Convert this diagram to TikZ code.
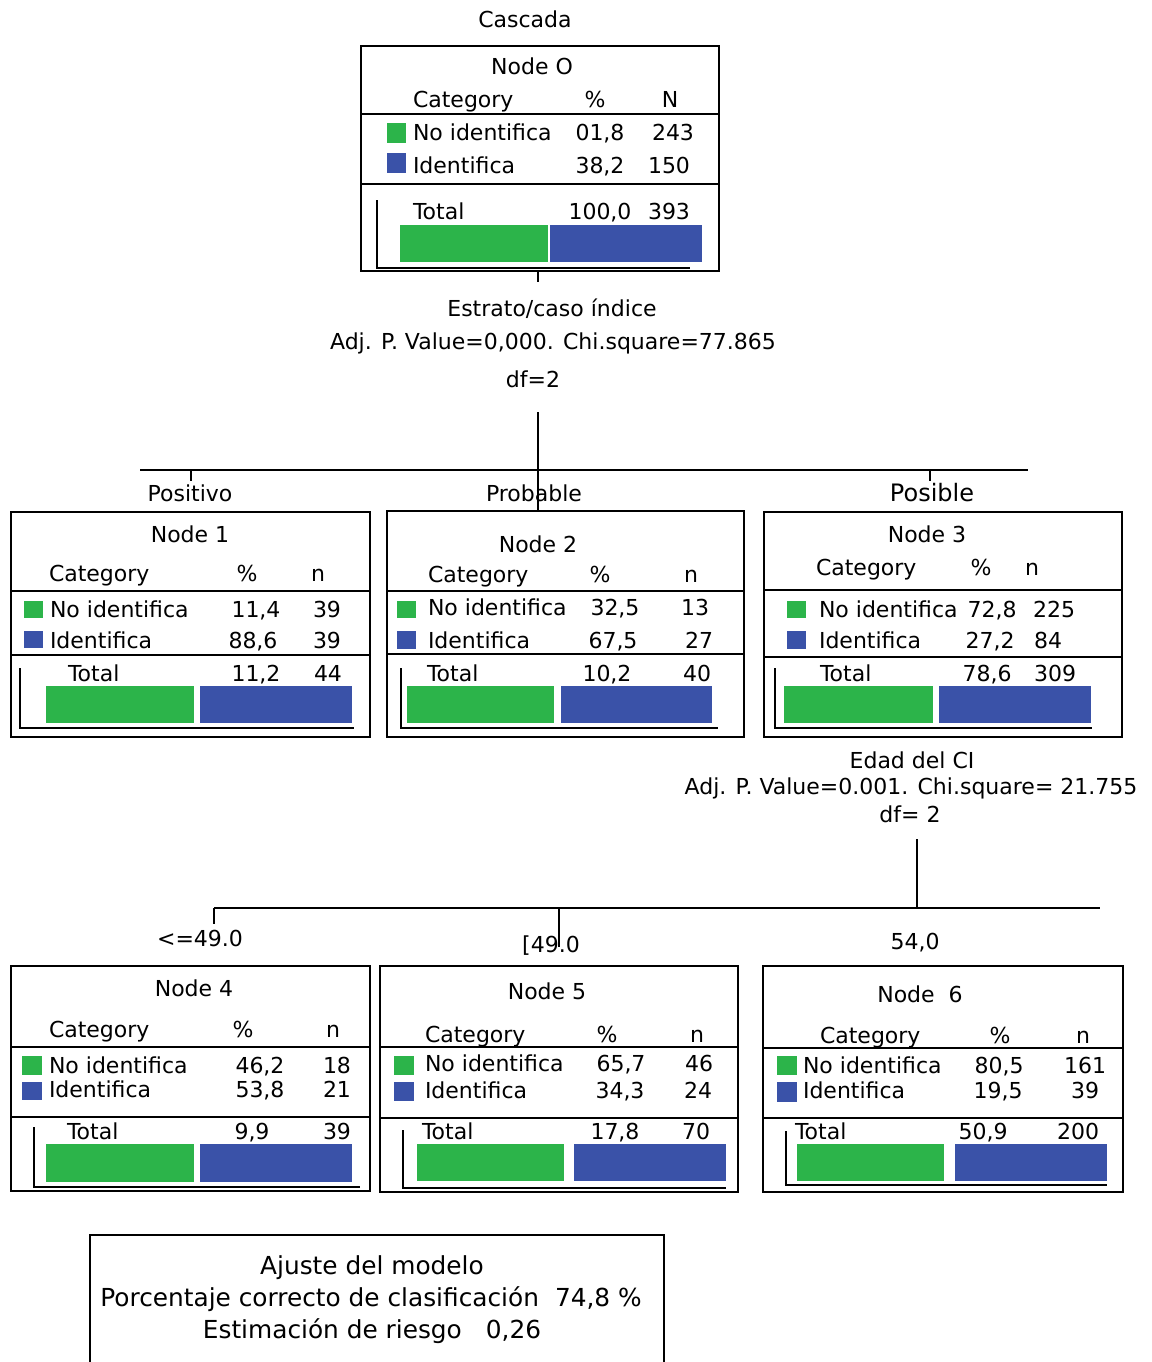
\documentclass[tikz,border=0pt]{standalone}
\usepackage{fontspec}
\setmainfont{DejaVu Sans}
\definecolor{gr}{RGB}{44,180,74}
\definecolor{bl}{RGB}{58,82,168}
\newcommand\nfont{\fontsize{22}{26}\selectfont}
\newcommand\pfont{\fontsize{24}{28}\selectfont}
\newcommand\bfontx{\fontsize{24.8}{30}\selectfont}
\tikzset{
 tx/.style={inner sep=0pt, outer sep=0pt, font=\nfont},
 lw/.style={tx, anchor=base west},
 cn/.style={tx, anchor=base},
 boxst/.style={draw, line width=1.8pt, minimum height=225pt, inner sep=0pt, outer sep=0pt, anchor=north west},
 sepst/.style={line width=1.8pt},
 brk/.style={line width=1.4pt},
 conn/.style={line width=1.6pt},
}
\begin{document}
\begin{tikzpicture}[x=1pt,y=-1pt]
\useasboundingbox (0,0) rectangle (1151,1362);
\clip (0,0) rectangle (1151,1362);

\node[cn] (title) at (525,28) {Cascada};

% ---------------- Node 0
\node[boxst, minimum width=358pt] (n0) at (361,46) {};
\begin{scope}[shift={(361,46)}]
\node[cn] (n0ti) at (171,29) {Node O};
\node[lw] (n0ca) at (52,62) {Category};
\node[cn] (n0pc) at (234,62) {\%};
\node[cn] (n0nn) at (309,62) {N};
\draw[sepst] (0,68) -- (358,68);
\fill[gr] (26,77) rectangle (45,97);
\fill[bl] (26,107) rectangle (45,127);
\node[lw] (n0a) at (52,94) {No identifica};
\node[cn] (n0ap) at (239,94) {01,8};
\node[cn] (n0an) at (312,94) {243};
\node[lw] (n0b) at (52,127) {Identifica};
\node[cn] (n0bp) at (239,127) {38,2};
\node[cn] (n0bn) at (308,127) {150};
\draw[sepst] (0,138) -- (358,138);
\node[lw] (n0t) at (52,173) {Total};
\node[cn] (n0tp) at (239,173) {100,0};
\node[cn] (n0tn) at (308,173) {393};
\fill[gr] (39,179) rectangle (187,216);
\fill[bl] (189,179) rectangle (341,216);
\draw[brk] (16,154) -- (16,222) -- (329,222);
\end{scope}

% ---------------- split 1
\coordinate (c0) at (538,282);
\draw[conn] (n0.south -| c0) -- (c0);
\node[cn] (e1a) at (552,316) {Estrato/caso índice};
\node[cn] (e1b) at (553,349) {Adj. P. Value=0,000. Chi.square=77.865};
\node[cn] (e1c) at (533,387) {df=2};
\coordinate (s1top) at (538,412);
\coordinate (h1l) at (140,470);
\coordinate (h1r) at (1028,470);
\coordinate (t1a) at (191,470);
\coordinate (t1b) at (191,481);
\coordinate (t3a) at (930,470);
\coordinate (t3b) at (930,481);
\draw[conn] (h1l) -- (h1r);
\draw[conn] (t1a) -- (t1b);
\draw[conn] (t3a) -- (t3b);

% ---------------- Node 1
\node[boxst, minimum width=359pt] (n1) at (11,512) {};
\begin{scope}[shift={(11,512)}]
\node[cn] (n1ti) at (179,30) {Node 1};
\node[lw] (n1ca) at (38,69) {Category};
\node[cn] (n1pc) at (236,69) {\%};
\node[cn] (n1nn) at (307,69) {n};
\draw[sepst] (0,79) -- (359,79);
\fill[gr] (13,89) rectangle (32,106);
\fill[bl] (13,119) rectangle (32,136);
\node[lw] (n1a) at (39,105) {No identifica};
\node[cn] (n1ap) at (245,105) {11,4};
\node[cn] (n1an) at (316,105) {39};
\node[lw] (n1b) at (39,136) {Identifica};
\node[cn] (n1bp) at (242,136) {88,6};
\node[cn] (n1bn) at (316,136) {39};
\draw[sepst] (0,143) -- (359,143);
\node[lw] (n1t) at (57,169) {Total};
\node[cn] (n1tp) at (245,169) {11,2};
\node[cn] (n1tn) at (317,169) {44};
\fill[gr] (35,174) rectangle (183,211);
\fill[bl] (189,174) rectangle (341,211);
\draw[brk] (9,156) -- (9,216) -- (343,216);
\end{scope}

% ---------------- Node 2
\node[boxst, minimum width=357pt, minimum height=226pt] (n2) at (387,511) {};
\draw[conn] (s1top) -- (n2.north -| s1top);
\begin{scope}[shift={(387,511)}]
\node[cn] (n2ti) at (151,41) {Node 2};
\node[lw] (n2ca) at (41,71) {Category};
\node[cn] (n2pc) at (213,71) {\%};
\node[cn] (n2nn) at (304,71) {n};
\draw[sepst] (0,80) -- (357,80);
\fill[gr] (10,90) rectangle (29,107);
\fill[bl] (10,120) rectangle (29,138);
\node[lw] (n2a) at (41,104) {No identifica};
\node[cn] (n2ap) at (228,104) {32,5};
\node[cn] (n2an) at (308,104) {13};
\node[lw] (n2b) at (41,137) {Identifica};
\node[cn] (n2bp) at (226,137) {67,5};
\node[cn] (n2bn) at (312,137) {27};
\draw[sepst] (0,143) -- (357,143);
\node[lw] (n2t) at (40,170) {Total};
\node[cn] (n2tp) at (220,170) {10,2};
\node[cn] (n2tn) at (310,170) {40};
\fill[gr] (20,175) rectangle (167,212);
\fill[bl] (174,175) rectangle (325,212);
\draw[brk] (14,157) -- (14,217) -- (331,217);
\end{scope}

% ---------------- Node 3
\node[boxst, minimum width=358pt] (n3) at (764,512) {};
\begin{scope}[shift={(764,512)}]
\node[cn] (n3ti) at (163,30) {Node 3};
\node[lw] (n3ca) at (52,63) {Category};
\node[cn] (n3pc) at (217,63) {\%};
\node[cn] (n3nn) at (268,63) {n};
\draw[sepst] (0,78) -- (358,78);
\fill[gr] (23,89) rectangle (42,106);
\fill[bl] (23,119) rectangle (42,137);
\node[lw] (n3a) at (55,105) {No identifica};
\node[cn] (n3ap) at (228,105) {72,8};
\node[cn] (n3an) at (290,105) {225};
\node[lw] (n3b) at (55,136) {Identifica};
\node[cn] (n3bp) at (226,136) {27,2};
\node[cn] (n3bn) at (284,136) {84};
\draw[sepst] (0,145) -- (358,145);
\node[lw] (n3t) at (56,169) {Total};
\node[cn] (n3tp) at (223,169) {78,6};
\node[cn] (n3tn) at (291,169) {309};
\fill[gr] (20,174) rectangle (169,211);
\fill[bl] (175,174) rectangle (327,211);
\draw[brk] (11,156) -- (11,216) -- (328,216);
\end{scope}

% labels split 1
\node[cn] (l1) at (190,501) {Positivo};
\node[cn] (l2) at (534,501) {Probable};
\node[cn, font=\pfont] (l3) at (932,501) {Posible};

% ---------------- split 2
\node[cn] (e2a) at (912,768) {Edad del CI};
\node[cn] (e2b) at (911,794) {Adj. P. Value=0.001. Chi.square= 21.755};
\node[cn] (e2c) at (910,822) {df= 2};
\coordinate (s2top) at (917,839);
\coordinate (s2bar) at (917,908);
\coordinate (h2l) at (214,908);
\coordinate (h2r) at (1100,908);
\coordinate (t4b) at (214,924);
\coordinate (t5a) at (559,908);
\coordinate (t5b) at (559,947);
\draw[conn] (s2top) -- (s2bar);
\draw[conn] (h2l) -- (h2r);
\draw[conn] (h2l) -- (t4b);
\draw[conn] (t5a) -- (t5b);
\node[cn] (l4) at (200,946) {<=49.0};
\node[cn] (l5) at (551,952) {[49.0};
\node[cn] (l6) at (915,949) {54,0};

% ---------------- Node 4
\node[boxst, minimum width=359pt] (n4) at (11,966) {};
\begin{scope}[shift={(11,966)}]
\node[cn] (n4ti) at (183,30) {Node 4};
\node[lw] (n4ca) at (38,71) {Category};
\node[cn] (n4pc) at (232,71) {\%};
\node[cn] (n4nn) at (322,71) {n};
\draw[sepst] (0,81) -- (359,81);
\fill[gr] (11,90) rectangle (31,109);
\fill[bl] (11,116) rectangle (31,134);
\node[lw] (n4a) at (38,107) {No identifica};
\node[cn] (n4ap) at (249,107) {46,2};
\node[cn] (n4an) at (326,107) {18};
\node[lw] (n4b) at (38,131) {Identifica};
\node[cn] (n4bp) at (249,131) {53,8};
\node[cn] (n4bn) at (326,131) {21};
\draw[sepst] (0,151) -- (359,151);
\node[lw] (n4t) at (56,173) {Total};
\node[cn] (n4tp) at (241,173) {9,9};
\node[cn] (n4tn) at (326,173) {39};
\fill[gr] (35,178) rectangle (183,216);
\fill[bl] (189,178) rectangle (341,216);
\draw[brk] (23,161) -- (23,221) -- (349,221);
\end{scope}

% ---------------- Node 5
\node[boxst, minimum width=358pt, minimum height=226pt] (n5) at (380,966) {};
\begin{scope}[shift={(380,966)}]
\node[cn] (n5ti) at (167,33) {Node 5};
\node[lw] (n5ca) at (45,76) {Category};
\node[cn] (n5pc) at (227,76) {\%};
\node[cn] (n5nn) at (317,76) {n};
\draw[sepst] (0,81) -- (358,81);
\fill[gr] (14,90) rectangle (34,109);
\fill[bl] (14,116) rectangle (34,135);
\node[lw] (n5a) at (45,105) {No identifica};
\node[cn] (n5ap) at (241,105) {65,7};
\node[cn] (n5an) at (319,105) {46};
\node[lw] (n5b) at (45,132) {Identifica};
\node[cn] (n5bp) at (240,132) {34,3};
\node[cn] (n5bn) at (318,132) {24};
\draw[sepst] (0,152) -- (358,152);
\node[lw] (n5t) at (42,173) {Total};
\node[cn] (n5tp) at (235,173) {17,8};
\node[cn] (n5tn) at (316,173) {70};
\fill[gr] (37,178) rectangle (184,215);
\fill[bl] (194,178) rectangle (346,215);
\draw[brk] (23,164) -- (23,222) -- (346,222);
\end{scope}

% ---------------- Node 6
\node[boxst, minimum width=360pt, minimum height=226pt] (n6) at (763,966) {};
\begin{scope}[shift={(763,966)}]
\node[cn] (n6ti) at (157,36) {Node\ \ 6};
\node[lw] (n6ca) at (57,77) {Category};
\node[cn] (n6pc) at (237,77) {\%};
\node[cn] (n6nn) at (320,77) {n};
\draw[sepst] (0,82) -- (360,82);
\fill[gr] (14,90) rectangle (34,109);
\fill[bl] (14,116) rectangle (34,136);
\node[lw] (n6a) at (40,107) {No identifica};
\node[cn] (n6ap) at (236,107) {80,5};
\node[cn] (n6an) at (322,107) {161};
\node[lw] (n6b) at (40,132) {Identifica};
\node[cn] (n6bp) at (235,132) {19,5};
\node[cn] (n6bn) at (322,132) {39};
\draw[sepst] (0,152) -- (360,152);
\node[lw] (n6t) at (32,173) {Total};
\node[cn] (n6tp) at (220,173) {50,9};
\node[cn] (n6tn) at (315,173) {200};
\fill[gr] (34,178) rectangle (181,215);
\fill[bl] (192,178) rectangle (344,215);
\draw[brk] (23,165) -- (23,219) -- (344,219);
\end{scope}

% ---------------- model fit box
\node[draw, line width=1.8pt, anchor=north west, minimum width=574pt, minimum height=170pt, inner sep=0pt] (fitbox) at (89,1234) {};
\node[cn, font=\bfontx] (f1) at (372,1274) {Ajuste del modelo};
\node[cn, font=\bfontx] (f2) at (371,1306) {Porcentaje correcto de clasificación\hspace{16pt}74,8 \%};
\node[cn, font=\bfontx] (f3) at (372,1338) {Estimación de riesgo\hspace{24pt}0,26};
\end{tikzpicture}
\end{document}
